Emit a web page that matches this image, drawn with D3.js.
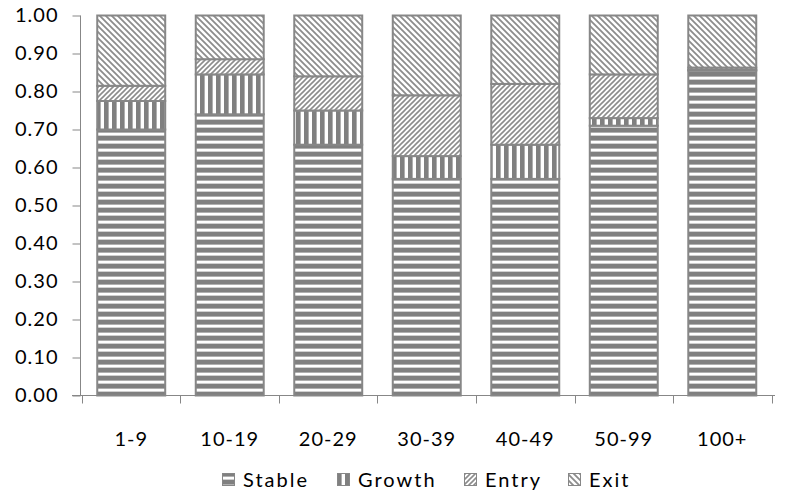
<!DOCTYPE html>
<html><head><meta charset="utf-8">
<script src="https://cdn.jsdelivr.net/npm/d3@7"></script>
<style>
body{margin:0;background:#fff;}
svg text{font-family:Lato,"Open Sans",sans-serif;fill:#000;}
</style></head>
<body><svg id="c" width="805" height="495"></svg>
<script>
const categories = ["1-9","10-19","20-29","30-39","40-49","50-99","100+"];
const seriesNames = ["Stable","Growth","Entry","Exit"];
const stable = [0.70,0.74,0.66,0.57,0.57,0.71,0.855];
const growth = [0.075,0.105,0.09,0.06,0.09,0.02,0.002];
const entry  = [0.04,0.04,0.09,0.16,0.16,0.115,0.006];
const exit   = [0.185,0.115,0.16,0.21,0.18,0.155,0.137];
const yTicks = [0,0.1,0.2,0.3,0.4,0.5,0.6,0.7,0.8,0.9,1.0];

const svg = d3.select("#c");
const grey = "#878787";
const defs = svg.append("defs");

function stripePattern(id, vertical){
  const p = defs.append("pattern").attr("id",id).attr("patternUnits","userSpaceOnUse")
    .attr("width",8).attr("height",8);
  p.append("rect").attr("width",8).attr("height",8).attr("fill","#fff");
  if(vertical){
    p.append("rect").attr("x",0).attr("y",0).attr("width",4).attr("height",8).attr("fill","#808080");
    p.append("rect").attr("x",4).attr("y",0).attr("width",1).attr("height",8).attr("fill","#b0b0b0");
  } else {
    p.append("rect").attr("x",0).attr("y",0).attr("width",8).attr("height",4).attr("fill","#808080");
    p.append("rect").attr("x",0).attr("y",4).attr("width",8).attr("height",1).attr("fill","#b0b0b0");
    p.append("rect").attr("x",0).attr("y",7).attr("width",8).attr("height",1).attr("fill","#d0d0d0");
  }
}
function diagPattern(id, s, down, w, col){
  const p = defs.append("pattern").attr("id",id).attr("patternUnits","userSpaceOnUse")
    .attr("width",s).attr("height",s);
  p.append("rect").attr("width",s).attr("height",s).attr("fill","#fff");
  const d = down
    ? `M0,0L${s},${s}M${-s/2},${s/2}L${s/2},${s*1.5}M${s/2},${-s/2}L${s*1.5},${s/2}`
    : `M0,${s}L${s},0M${-s/2},${s/2}L${s/2},${-s/2}M${s/2},${s*1.5}L${s*1.5},${s/2}`;
  p.append("path").attr("d",d).attr("stroke",col).attr("stroke-width",w).attr("fill","none");
}
stripePattern("pStable", false);
stripePattern("pGrowth", true);
diagPattern("pEntry", 5, false, 1.6, "#8c8c8c");
diagPattern("pExit", 6, true, 1.8, "#8c8c8c");
const fills = ["url(#pStable)","url(#pGrowth)","url(#pEntry)","url(#pExit)"];

const x = d3.scaleBand().domain(categories).range([80.5,773]).paddingInner(0.31).paddingOuter(0.17);
const y = d3.scaleLinear().domain([0,1]).range([395.5,15.5]);

const rows = categories.map((c,i)=>({cat:c, Stable:stable[i], Growth:growth[i], Entry:entry[i], Exit:exit[i]}));
const stacked = d3.stack().keys(seriesNames)(rows);

stacked.forEach((layer,k)=>{
  svg.append("g").selectAll("rect").data(layer).join("rect")
    .attr("x",d=>x(d.data.cat))
    .attr("width",x.bandwidth())
    .attr("y",d=>y(d[1]))
    .attr("height",d=>Math.max(0,y(d[0])-y(d[1])))
    .attr("fill",fills[k])
    .attr("stroke",grey).attr("stroke-width",2);
});

const yAxis = d3.axisLeft(y).tickValues(yTicks).tickFormat(d3.format(".2f")).tickSize(8).tickPadding(14);
const gy = svg.append("g").attr("transform","translate(80.5,0)").call(yAxis);
gy.select(".domain").attr("stroke",grey).attr("d","M0,15.5V395.5");
gy.selectAll(".tick line").attr("stroke",grey);
gy.selectAll(".tick text").attr("font-size",20).attr("font-family","Lato").attr("letter-spacing","1px");

const xAxis = d3.axisBottom(x).tickSize(0).tickPadding(36);
const gx = svg.append("g").attr("transform","translate(0,395.5)").call(xAxis);
gx.select(".domain").attr("stroke",grey).attr("d","M72,0H775");
gx.selectAll(".tick text").attr("font-size",20).attr("font-family","Lato").attr("letter-spacing","1px");
const bounds = categories.map(c=>x(c)-x.step()*x.paddingInner()/2).concat([x(categories[6])+x.bandwidth()+x.step()*x.paddingInner()/2]);
gx.append("g").selectAll("line").data(bounds).join("line")
  .attr("x1",d=>Math.round(d)+0.5).attr("x2",d=>Math.round(d)+0.5).attr("y1",0).attr("y2",8).attr("stroke",grey);

const legX = [222, 337, 464, 568];
const leg = svg.append("g").attr("transform","translate(0,480)");
seriesNames.forEach((n,i)=>{
  const g = leg.append("g").attr("transform",`translate(${legX[i]},0)`);
  g.append("rect").attr("x",0.5).attr("y",-6.5).attr("width",12).attr("height",12)
    .attr("fill",fills[i]).attr("stroke",grey).attr("stroke-width",1);
  g.append("text").attr("x",21).attr("y",0).attr("dy","0.35em").attr("font-size",20).attr("letter-spacing","2px").text(n);
});
</script></body></html>
